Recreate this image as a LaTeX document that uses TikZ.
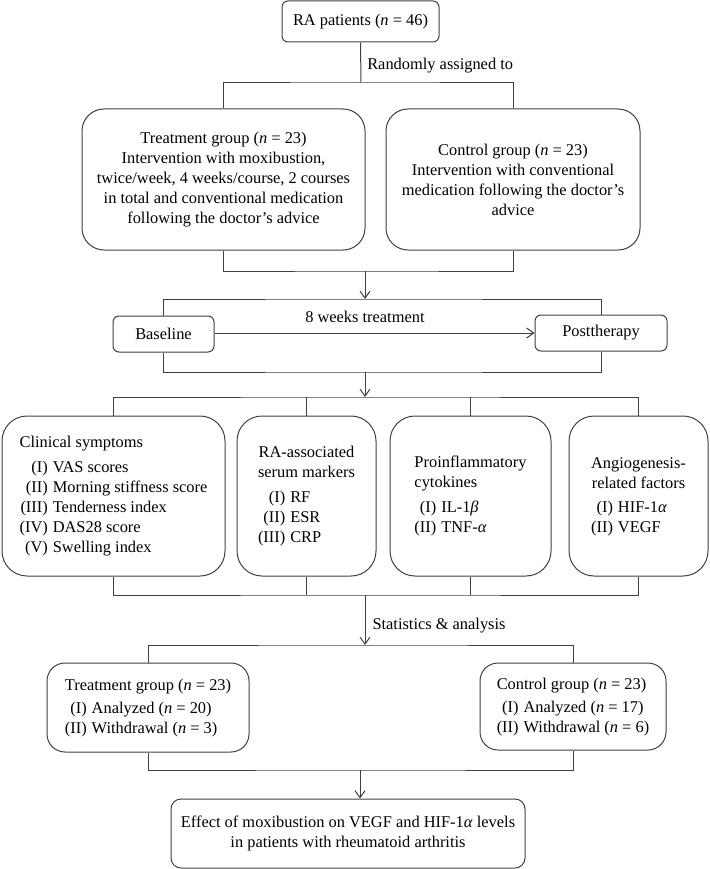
\documentclass[tikz,border=0pt]{standalone}
\usepackage{fontspec}
\setmainfont{Liberation Serif}
\usetikzlibrary{arrows.meta}

\begin{document}
\begin{tikzpicture}[x=1pt, y=-1pt,
    font=\fontsize{16.4}{20}\selectfont,
    box/.style={draw=black!75, line width=1pt, inner sep=0pt},
    link/.style={draw=black!75, line width=1pt},
    arr/.style={link, -{Straight Barb[length=7pt,width=10pt]}},
    lbl/.style={inner sep=0pt}]

    \useasboundingbox (0,0) rectangle (709,869);

    % Pacientes e randomizacao
    \node[box, rounded corners=6pt, minimum width=157pt, minimum height=41pt] (ra) at (360.5,21.5)
      {RA patients (\textit{n} = 46)};
    \node[box, align=center, rounded corners=22pt, minimum width=283pt, minimum height=141pt] (treat) at (223.5,179.5)
      {Treatment group (\textit{n} = 23)\\Intervention with moxibustion,\\twice/week, 4 weeks/course, 2 courses\\in total and conventional medication\\following the doctor's advice};
    \node[box, align=center, rounded corners=22pt, minimum width=254pt, minimum height=141pt] (ctrl) at (513,179.5)
      {Control group (\textit{n} = 23)\\Intervention with conventional\\medication following the doctor's\\advice};

    \coordinate (j1) at (361,83);
    \draw[link] (ra.south) -- node[lbl, right=6pt, pos=0.56] (rand) {Randomly assigned to} (j1);
    \draw[link] (treat.north) |- (j1) -| (ctrl.north);

    % Baseline -> Posttherapy
    \node[box, rounded corners=6pt, minimum width=101pt, minimum height=36pt] (base) at (163.5,334) {Baseline};
    \node[box, rounded corners=6pt, minimum width=132pt, minimum height=36pt] (post) at (601,333) {Posttherapy};

    \coordinate (m1) at (365,271);
    \coordinate (m2) at (365,299);
    \draw[link] (treat.south) |- (m1) -| (ctrl.south);
    \draw[arr] (m1) -- (m2);
    \draw[link] (base.north) |- (m2) -| (post.north);
    \draw[arr] (base.east |- post.west) -- node[lbl, above=10pt, pos=0.47] (weeks) {8 weeks treatment} (post.west);

    % Indicadores
    \node[box, rounded corners=25pt, minimum width=223pt, minimum height=160pt] (clin) at (113.5,496)
      {\begin{tabular}{@{}r@{\hspace{5pt}}l@{}}
        \multicolumn{2}{@{}l@{}}{Clinical symptoms}\\[5pt]
        (I) & VAS scores\\
        (II) & Morning stiffness score\\
        (III) & Tenderness index\\
        (IV) & DAS28 score\\
        (V) & Swelling index
      \end{tabular}};
    \node[box, rounded corners=25pt, minimum width=139pt, minimum height=160pt] (serum) at (306.5,496)
      {\begin{tabular}{@{}r@{\hspace{5pt}}l@{}}
        \multicolumn{2}{@{}c@{}}{RA-associated}\\
        \multicolumn{2}{@{}c@{}}{serum markers}\\[5pt]
        (I) & RF\\
        (II) & ESR\\
        (III) & CRP
      \end{tabular}};
    \node[box, rounded corners=25pt, minimum width=161pt, minimum height=160pt] (cyto) at (470.5,496)
      {\begin{tabular}{@{}r@{\hspace{5pt}}l@{}}
        \multicolumn{2}{@{}l@{}}{Proinflammatory}\\
        \multicolumn{2}{@{}l@{}}{cytokines}\\[5pt]
        (I) & IL-1\textit{β}\\
        (II) & TNF-\textit{α}
      \end{tabular}};
    \node[box, rounded corners=25pt, minimum width=139pt, minimum height=160pt] (angio) at (638.5,496)
      {\begin{tabular}{@{}r@{\hspace{5pt}}l@{}}
        \multicolumn{2}{@{}c@{}}{Angiogenesis-}\\
        \multicolumn{2}{@{}c@{}}{related factors}\\[4pt]
        (I) & HIF-1\textit{α}\\
        (II) & VEGF
      \end{tabular}};

    \coordinate (m3) at (365,372);
    \coordinate (m4) at (365,397);
    \draw[link] (base.south) |- (m3) -| (post.south);
    \draw[arr] (m3) -- (m4);
    \draw[link] (clin.north) |- (m4) -| (angio.north);
    \draw[link] (serum.north) -- (serum.north |- m4);
    \draw[link] (cyto.north) -- (cyto.north |- m4);

    % Resultados por grupo
    \node[box, rounded corners=18pt, minimum width=202pt, minimum height=89pt] (treatres) at (148,707.5)
      {\begin{tabular}{@{}r@{\hspace{5pt}}l@{}}
        \multicolumn{2}{@{}l@{}}{Treatment group (\textit{n} = 23)}\\[3pt]
        (I) & Analyzed (\textit{n} = 20)\\
        (II) & Withdrawal (\textit{n} = 3)
      \end{tabular}};
    \node[box, rounded corners=18pt, minimum width=186pt, minimum height=87pt] (ctrlres) at (573,706.5)
      {\begin{tabular}{@{}r@{\hspace{5pt}}l@{}}
        \multicolumn{2}{@{}l@{}}{Control group (\textit{n} = 23)}\\[3pt]
        (I) & Analyzed (\textit{n} = 17)\\
        (II) & Withdrawal (\textit{n} = 6)
      \end{tabular}};

    \coordinate (m5) at (365,595);
    \coordinate (m6) at (365,645);
    \draw[link] (clin.south) |- (m5) -| (angio.south);
    \draw[link] (serum.south) -- (serum.south |- m5);
    \draw[link] (cyto.south) -- (cyto.south |- m5);
    \draw[arr] (m5) -- node[lbl, right=7pt, pos=0.62] (stats) {Statistics \& analysis} (m6);
    \draw[link] (treatres.north) |- (m6) -| (ctrlres.north);

    % Conclusao
    \node[box, align=center, rounded corners=10pt, minimum width=354pt, minimum height=69pt] (effect) at (348,833.5)
      {Effect of moxibustion on VEGF and HIF-1\textit{α} levels\\in patients with rheumatoid arthritis};

    \coordinate (m7) at (360,770);
    \draw[link] (treatres.south) |- (m7) -| (ctrlres.south);
    \draw[arr] (m7) -- (m7 |- effect.north);
  \end{tikzpicture}
\end{document}
